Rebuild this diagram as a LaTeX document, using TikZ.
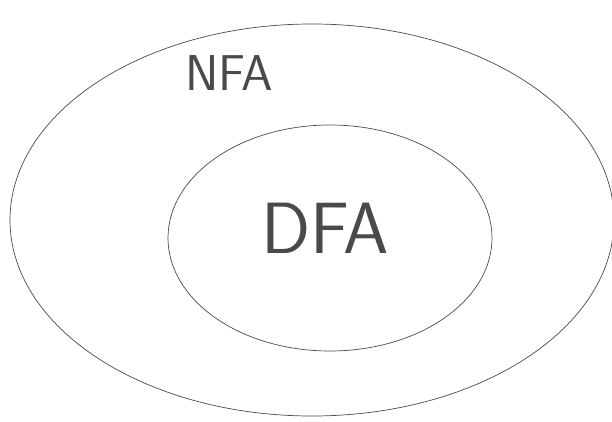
\documentclass[tikz,border=0pt]{standalone}
\usetikzlibrary{shapes.geometric}
\definecolor{pencil}{HTML}{4A4A4A}
\begin{document}
\begin{tikzpicture}[x=0.03cm,y=-0.03cm,
  ring/.style={draw=pencil, line width=0.6pt, ellipse, inner sep=0pt},
  lbl/.style={text=pencil, font=\sffamily\fontseries{l}\selectfont}]
\useasboundingbox[fill=white] (0,0) rectangle (612,422);
\node[ring, minimum width=604*0.03cm, minimum height=392*0.03cm] (nfaset) at (312,220) {};
\node[ring, minimum width=324*0.03cm, minimum height=226*0.03cm] (dfaset) at (330,238) {};
\node[lbl, font=\sffamily\fontsize{43}{46}\selectfont] (nfa) at (229,73) {NFA};
\node[lbl, font=\sffamily\fontsize{62}{66}\selectfont] (dfa) at (325,228) {DFA};
\end{tikzpicture}
\end{document}
